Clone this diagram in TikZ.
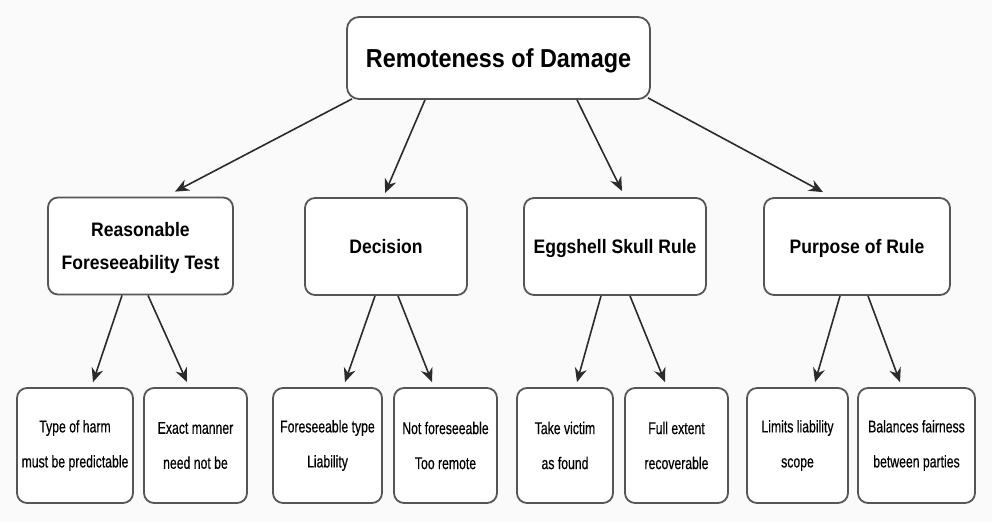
\documentclass[tikz,border=0pt]{standalone}
\usepackage{fontspec}
\setmainfont{Liberation Sans}
\newfontfamily\headfont[FakeStretch=0.9]{Liberation Sans}
\newfontfamily\leaffont[FakeStretch=0.72, FakeBold=0.4]{Liberation Sans}
\usepackage{xcolor}
\usepackage{tikz}
\usetikzlibrary{arrows.meta}

\definecolor{edgegray}{HTML}{555555}
\definecolor{linkgray}{HTML}{2B2B2B}
\definecolor{bggray}{HTML}{FAFAFA}

\begin{document}
\begin{tikzpicture}[x=1pt, y=-1pt,
  topbox/.style={draw=edgegray, line width=1.8pt, fill=white, rounded corners=12pt, text depth=0pt,
    minimum width=303pt, minimum height=82pt, font=\headfont\bfseries\fontsize{26}{30}\selectfont},
  midbox/.style={draw=edgegray, line width=1.8pt, fill=white, rounded corners=10pt, text depth=0pt,
    minimum height=97pt, align=center, font=\headfont\bfseries\fontsize{19.5}{33}\selectfont},
  leafbox/.style={draw=edgegray, line width=1.8pt, fill=white, rounded corners=10pt,
    minimum height=115pt, align=center, font=\leaffont\fontsize{17}{35}\selectfont},
  link/.style={-{Stealth[length=14pt, width=12pt]}, draw=linkgray, line width=1.6pt}
]
  % Canvas
  \fill[bggray] (0,0) rectangle (992,522);
  \useasboundingbox (0,0) rectangle (992,522);

  % Root
  \node[topbox] (root) at (498.5,58) {Remoteness of Damage};

  % Second level
  \node[midbox, minimum width=185pt] (rft) at (140.5,246) {Reasonable\\Foreseeability Test};
  \node[midbox, minimum width=162pt] (dec) at (386,246.5) {Decision};
  \node[midbox, minimum width=182pt] (egg) at (615,246.5) {Eggshell Skull Rule};
  \node[midbox, minimum width=186pt] (pur) at (857,246.5) {Purpose of Rule};

  % Leaves
  \node[leafbox, minimum width=116pt] (harm)    at (75,445.5)    {Type of harm\\must be predictable};
  \node[leafbox, minimum width=103pt] (manner)  at (195.5,445.5) {Exact manner\\need not be};
  \node[leafbox, minimum width=109pt] (ftype)   at (327.5,445.5) {Foreseeable type\\Liability};
  \node[leafbox, minimum width=103pt] (notf)    at (445.5,445.5) {Not foreseeable\\Too remote};
  \node[leafbox, minimum width=96pt]  (victim)  at (565,445.5)   {Take victim\\as found};
  \node[leafbox, minimum width=103pt] (extent)  at (676.5,445.5) {Full extent\\recoverable};
  \node[leafbox, minimum width=101pt] (limits)  at (797.5,445.5) {Limits liability\\scope};
  \node[leafbox, minimum width=117pt] (balance) at (916.5,445.5) {Balances fairness\\between parties};

  % Root to second level
  \draw[link] ([xshift=-146.5pt, yshift=1pt]root.south) -- ([xshift=34.5pt, yshift=5pt]rft.north);
  \draw[link] ([xshift=-73.5pt]root.south) -- ([xshift=-1pt, yshift=4pt]dec.north);
  \draw[link] ([xshift=78.5pt]root.south) -- ([xshift=7pt, yshift=6pt]egg.north);
  \draw[link] ([xshift=149.5pt, yshift=2pt]root.south) -- ([xshift=-34pt, yshift=5pt]pur.north);

  % Second level to leaves
  \draw[link] ([xshift=-18.5pt]rft.south) -- ([xshift=18pt, yshift=5pt]harm.north);
  \draw[link] ([xshift=7.5pt]rft.south) -- ([xshift=-8.5pt, yshift=5pt]manner.north);
  \draw[link] ([xshift=-11pt]dec.south) -- ([xshift=17.5pt, yshift=5pt]ftype.north);
  \draw[link] ([xshift=12pt]dec.south) -- ([xshift=-13.5pt, yshift=5pt]notf.north);
  \draw[link] ([xshift=-14pt]egg.south) -- ([xshift=12pt, yshift=5pt]victim.north);
  \draw[link] ([xshift=15pt]egg.south) -- ([xshift=-11.5pt, yshift=5pt]extent.north);
  \draw[link] ([xshift=-17pt]pur.south) -- ([xshift=17.5pt, yshift=5pt]limits.north);
  \draw[link] ([xshift=11pt]pur.south) -- ([xshift=-16.5pt, yshift=5pt]balance.north);
\end{tikzpicture}
\end{document}
